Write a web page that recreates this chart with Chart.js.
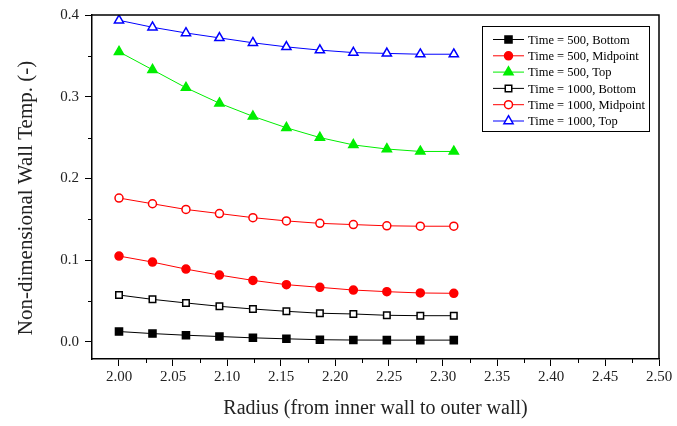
<!DOCTYPE html>
<html>
<head>
<meta charset="utf-8">
<title>Non-dimensional wall temperature</title>
<script src="https://cdn.jsdelivr.net/npm/chart.js"></script>
<style>
    body { margin: 0; background: #fff; }
    canvas { display: block; }
</style>
</head>
<body>
<canvas id="chart" width="677" height="426"></canvas>
<script>
// ---- data ----
const radius = [2.000, 2.031, 2.062, 2.093, 2.124, 2.155, 2.186, 2.217, 2.248, 2.279, 2.310];

const t500Bottom = [0.0126, 0.0101, 0.0081, 0.0065, 0.0049, 0.0037, 0.0026, 0.0022, 0.0021, 0.0021, 0.0021];
const t500Mid    = [0.105, 0.0976, 0.089, 0.0817, 0.0752, 0.070, 0.0667, 0.0634, 0.0614, 0.0598, 0.0594];
const t500Top    = [0.355, 0.333, 0.311, 0.292, 0.276, 0.262, 0.250, 0.241, 0.236, 0.233, 0.233];
const t1000Bottom = [0.0573, 0.052, 0.0476, 0.0435, 0.0402, 0.0374, 0.035, 0.0341, 0.0325, 0.032, 0.032];
const t1000Mid    = [0.176, 0.169, 0.162, 0.157, 0.152, 0.148, 0.145, 0.1435, 0.142, 0.1415, 0.1415];
const t1000Top    = [0.3935, 0.385, 0.378, 0.372, 0.366, 0.361, 0.357, 0.354, 0.353, 0.352, 0.352];

const seriesNames = [
    "Time = 500, Bottom",
    "Time = 500, Midpoint",
    "Time = 500, Top",
    "Time = 1000, Bottom",
    "Time = 1000, Midpoint",
    "Time = 1000, Top"
];

const xTicks = [2.00, 2.05, 2.10, 2.15, 2.20, 2.25, 2.30, 2.35, 2.40, 2.45, 2.50];
const xMinor = [2.025, 2.075, 2.125, 2.175, 2.225, 2.275, 2.325, 2.375, 2.425, 2.475];
const yTicks = [0.0, 0.1, 0.2, 0.3, 0.4];
const yMinor = [0.05, 0.15, 0.25, 0.35];

const xTitle = "Radius (from inner wall to outer wall)";
const yTitle = "Non-dimensional Wall Temp. (-)";

// -----------------------------------------------------------------------

const serif = "'Liberation Serif', 'Times New Roman', serif";

function series(label, values, color, style, filled, size) {
    return {
        label,
        data: values.map((v, i) => ({ x: radius[i], y: v })),
        borderColor: color,
        borderWidth: 1,
        pointStyle: style,
        pointRadius: size,
        pointHoverRadius: size,
        pointBorderColor: color,
        pointBorderWidth: 1.5,
        pointBackgroundColor: filled ? color : "#fff",
        tension: 0,
        filled
    };
}

const datasets = [
    series(seriesNames[0], t500Bottom, "#000000", "rect", true, 5),
    series(seriesNames[1], t500Mid, "#ff0000", "circle", true, 4),
    series(seriesNames[2], t500Top, "#00ee00", "triangle", true, 5.3),
    series(seriesNames[3], t1000Bottom, "#000000", "rect", false, 4.6),
    series(seriesNames[4], t1000Mid, "#ff0000", "circle", false, 4),
    series(seriesNames[5], t1000Top, "#0000ff", "triangle", false, 5.3)
];

function drawMarker(ctx, style, cx, cy, r) {
    ctx.beginPath();
    if (style === "rect") {
        const s = r * Math.SQRT2;
        ctx.rect(cx - s / 2, cy - s / 2, s, s);
    } else if (style === "circle") {
        ctx.arc(cx, cy, r, 0, Math.PI * 2);
    } else {
        ctx.moveTo(cx, cy - r);
        ctx.lineTo(cx + r * Math.sqrt(3) / 2, cy + r / 2);
        ctx.lineTo(cx - r * Math.sqrt(3) / 2, cy + r / 2);
        ctx.closePath();
    }
}

// closes the box, adds the small ticks and the y title (sits a bit low in the original)
const framePlugin = {
    id: "frame",
    afterDraw(chart) {
        const { ctx, chartArea: a, scales: { x, y } } = chart;
        ctx.save();
        ctx.strokeStyle = "#000";
        ctx.lineWidth = 1.5;
        ctx.beginPath();
        ctx.moveTo(a.left, a.top);
        ctx.lineTo(a.right, a.top);
        ctx.lineTo(a.right, a.bottom);
        ctx.stroke();

        ctx.lineWidth = 1;
        ctx.beginPath();
        for (const v of xMinor) {
            const px = Math.round(x.getPixelForValue(v)) + 0.5;
            ctx.moveTo(px, a.bottom);
            ctx.lineTo(px, a.bottom + 4);
        }
        for (const v of yMinor) {
            const py = Math.round(y.getPixelForValue(v)) + 0.5;
            ctx.moveTo(a.left, py);
            ctx.lineTo(a.left - 4, py);
        }
        ctx.stroke();

        ctx.translate(26, 198);
        ctx.rotate(-Math.PI / 2);
        ctx.font = `21px ${serif}`;
        ctx.fillStyle = "#222";
        ctx.textAlign = "center";
        ctx.textBaseline = "middle";
        ctx.fillText(yTitle, 0, 0);
        ctx.restore();
    }
};

// legend box inside the plot, line-marker-line samples
const legendPlugin = {
    id: "boxLegend",
    afterDraw(chart) {
        const ctx = chart.ctx;
        const box = { left: 482.5, top: 26.5, width: 167, height: 105 };
        ctx.save();
        ctx.strokeStyle = "#000";
        ctx.lineWidth = 1;
        ctx.strokeRect(box.left, box.top, box.width, box.height);

        ctx.font = `12.5px ${serif}`;
        ctx.textBaseline = "middle";
        chart.data.datasets.forEach((ds, i) => {
            const cy = 39.5 + i * 16.3;
            ctx.strokeStyle = ds.borderColor;
            ctx.lineWidth = 1;
            ctx.beginPath();
            ctx.moveTo(493, cy);
            ctx.lineTo(524, cy);
            ctx.stroke();

            drawMarker(ctx, ds.pointStyle, 508.5, cy, ds.pointRadius);
            ctx.fillStyle = ds.filled ? ds.borderColor : "#fff";
            ctx.fill();
            ctx.lineWidth = 1.5;
            ctx.stroke();

            ctx.fillStyle = "#000";
            ctx.fillText(ds.label, 528, cy + 1);
        });
        ctx.restore();
    }
};

const ctx = document.querySelector("#chart").getContext("2d");

new Chart(ctx, {
    type: "line",
    data: { datasets },
    options: {
        responsive: false,
        animation: false,
        layout: { padding: { left: 0, top: 14, right: 18, bottom: 0 } },
        plugins: {
            legend: { display: false },
            tooltip: { enabled: false }
        },
        scales: {
            x: {
                type: "linear",
                min: 1.975,
                max: 2.5,
                afterBuildTicks: (scale) => { scale.ticks = xTicks.map(v => ({ value: v })); },
                afterFit: (scale) => { scale.height = 67; },
                border: { display: true, color: "#000", width: 1.5 },
                grid: { drawOnChartArea: false, drawTicks: true, tickLength: 7, color: "#000", lineWidth: 1 },
                ticks: {
                    padding: 2,
                    color: "#222",
                    maxRotation: 0,
                    font: { family: serif, size: 15 },
                    callback: (v) => Number(v).toFixed(2)
                },
                title: {
                    display: true,
                    text: xTitle,
                    color: "#222",
                    font: { family: serif, size: 20, lineHeight: 1.2 },
                    padding: { top: 0, bottom: 5 }
                }
            },
            y: {
                type: "linear",
                min: -0.021,
                max: 0.4,
                afterBuildTicks: (scale) => { scale.ticks = yTicks.map(v => ({ value: v })); },
                afterFit: (scale) => { scale.width = 92; },
                border: { display: true, color: "#000", width: 1.5 },
                grid: { drawOnChartArea: false, drawTicks: true, tickLength: 7, color: "#000", lineWidth: 1 },
                ticks: {
                    padding: 6,
                    color: "#222",
                    font: { family: serif, size: 15 },
                    callback: (v) => Number(v).toFixed(1)
                }
            }
        }
    },
    plugins: [framePlugin, legendPlugin]
});
</script>
</body>
</html>
